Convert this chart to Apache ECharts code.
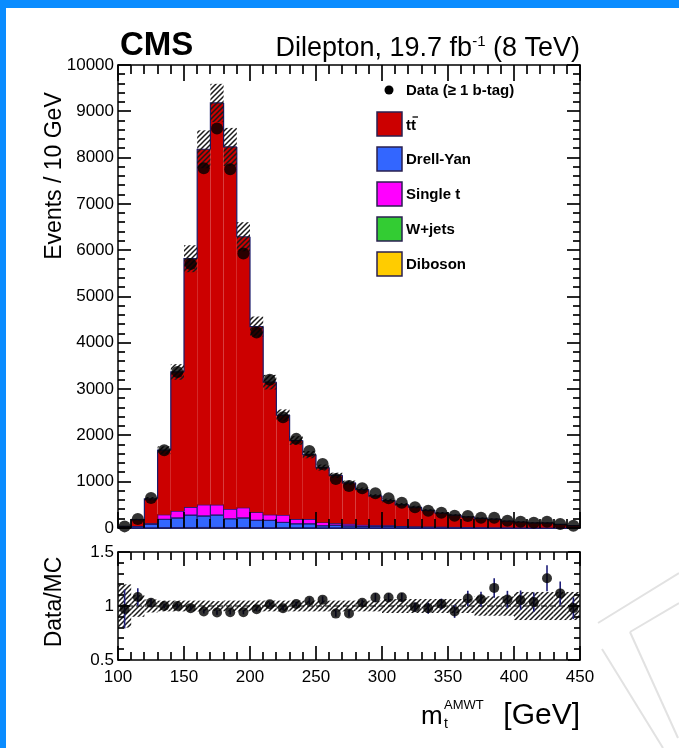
<!DOCTYPE html>
<html>
<head>
<meta charset="utf-8">
<script src="https://cdn.jsdelivr.net/npm/echarts@6/dist/echarts.min.js"></script>
<style>
  html, body { margin: 0; padding: 0; background: #ffffff; }
  #chart { width: 679px; height: 748px; }
</style>
</head>
<body>
<div id="chart"></div>
<script>
// Reconstructed top-quark mass (AMWT) in the dilepton channel, 10 GeV bins
const binEdges = [100, 110, 120, 130, 140, 150, 160, 170, 180, 190, 200, 210, 220, 230, 240, 250, 260, 270,
                  280, 290, 300, 310, 320, 330, 340, 350, 360, 370, 380, 390, 400, 410, 420, 430, 440, 450];

// Observed events (>= 1 b-tag)
const dataCounts = [35, 195, 650, 1680, 3370, 5700, 7770, 8630, 7750, 5930, 4220, 3200, 2390, 1925, 1663, 1382,
                    1058, 907, 857, 749, 641, 547, 447, 374, 330, 266, 259, 223, 223, 158, 137, 115, 137, 86, 50];

// Simulated contributions
const ttbar = [27, 137, 526, 1392, 3001, 5365, 7678, 8678, 7820, 5850, 4011, 2863, 2158, 1698, 1393, 1186,
               1034, 885, 764, 631, 533, 463, 415, 350, 295, 256, 220, 191, 175, 134, 117, 99, 99, 68, 44];
const drellYan = [5, 25, 80, 180, 210, 270, 250, 270, 190, 210, 160, 160, 115, 86, 86, 45,
                  60, 43, 30, 30, 30, 25, 22, 20, 18, 15, 14, 12, 10, 9, 8, 7, 6, 5, 4];
const singleTop = [3, 15, 20, 100, 150, 170, 240, 220, 210, 220, 170, 120, 160, 100, 100, 70,
                   40, 43, 35, 30, 28, 15, 12, 10, 10, 8, 7, 6, 5, 5, 4, 4, 3, 3, 2];
const wJets = [0, 1, 2, 3, 3, 4, 4, 4, 3, 3, 3, 2, 2, 2, 2, 1,
               1, 1, 1, 1, 1, 1, 1, 1, 0, 0, 0, 0, 0, 0, 0, 0, 0, 0, 0];
const diboson = [1, 2, 3, 5, 6, 7, 8, 8, 7, 7, 6, 5, 5, 4, 4, 3,
                 3, 3, 2, 2, 2, 2, 2, 1, 1, 1, 1, 1, 1, 1, 1, 1, 1, 1, 1];

// Relative systematic uncertainty on the total prediction
const mcRelUnc = [0.20, 0.10, 0.06, 0.05, 0.05, 0.05, 0.05, 0.045, 0.05, 0.05, 0.05, 0.05, 0.05, 0.05, 0.05, 0.05,
                  0.05, 0.05, 0.05, 0.05, 0.065, 0.065, 0.065, 0.065, 0.065, 0.065, 0.065, 0.09, 0.09, 0.09,
                  0.13, 0.13, 0.13, 0.13, 0.13];

// Statistical error on the data/MC ratio
const ratioErr = [0.18, 0.08, 0.04, 0.02, 0.02, 0.02, 0.02, 0.02, 0.02, 0.02, 0.02, 0.02, 0.02, 0.02, 0.03, 0.03,
                  0.03, 0.03, 0.03, 0.04, 0.04, 0.04, 0.04, 0.05, 0.05, 0.06, 0.07, 0.07, 0.09, 0.08, 0.09,
                  0.09, 0.12, 0.11, 0.10];

// Axis tick positions
const xMajorTicks = [100, 150, 200, 250, 300, 350, 400, 450];
const yMajorTicks = [0, 1000, 2000, 3000, 4000, 5000, 6000, 7000, 8000, 9000, 10000];
const yMinorStep = 200;
const rMajorTicks = [0.5, 1, 1.5];
const rMinorTicks = [0.6, 0.7, 0.8, 0.9, 1.1, 1.2, 1.3, 1.4];

const FONT = '"Liberation Sans", Arial, Helvetica, sans-serif';
const COL = { tt: '#cc0000', dy: '#3366ff', st: '#ff00ff', wj: '#33cc33', vv: '#ffcc00' };
const OUTLINE = '#1c1c6b';
const MAIN = { left: 118, top: 65, width: 462, height: 463 };
const RAT = { left: 118, top: 552, width: 462, height: 108 };

// cumulative stack (bottom to top): diboson, W+jets, Drell-Yan, single t, ttbar
const cum = (arrs) => dataCounts.map((_, i) => arrs.reduce((s, a) => s + a[i], 0));
const lvlVV = cum([diboson]);
const lvlWJ = cum([diboson, wJets]);
const lvlDY = cum([diboson, wJets, drellYan]);
const lvlST = cum([diboson, wJets, drellYan, singleTop]);
const mcTotal = cum([diboson, wJets, drellYan, singleTop, ttbar]);
const centers = binEdges.slice(0, -1).map((lo, i) => (lo + binEdges[i + 1]) / 2);

// diagonal hatch pattern
function makeHatch(color) {
  const s = 5;
  const c = document.createElement('canvas');
  c.width = s; c.height = s;
  const g = c.getContext('2d');
  g.strokeStyle = color;
  g.lineWidth = 1.5;
  g.beginPath();
  g.moveTo(-1, s + 1); g.lineTo(s + 1, -1);
  g.moveTo(-s / 2 - 1, s / 2 + 1); g.lineTo(s / 2 + 1, -s / 2 - 1);
  g.moveTo(s / 2 - 1, s * 1.5 + 1); g.lineTo(s * 1.5 + 1, s / 2 - 1);
  g.stroke();
  return { image: c, repeat: 'repeat' };
}
const hatch = makeHatch('#1a1a1a');

function layerSeries(name, color, lower, upper, boxStroke) {
  const rows = binEdges.slice(0, -1).map((lo, i) =>
    [lo, binEdges[i + 1], lower[i], upper[i], i > 0 ? upper[i - 1] : 0]);
  return {
    type: 'custom', name, xAxisIndex: 0, yAxisIndex: 0, z: 2,
    data: rows, encode: { x: [0, 1], y: [2, 3] },
    renderItem(params, api) {
      const lo = api.value(0), hi = api.value(1), b = api.value(2), t = api.value(3), p = api.value(4);
      const tl = api.coord([lo, t]), br = api.coord([hi, b]);
      const tr = api.coord([hi, t]), pl = api.coord([lo, p]);
      const children = [];
      if (t > b) {
        children.push({
          type: 'rect',
          shape: { x: tl[0], y: tl[1], width: br[0] - tl[0], height: br[1] - tl[1] },
          style: boxStroke ? { fill: color, stroke: OUTLINE, lineWidth: 1 } : { fill: color }
        });
      }
      children.push({
        type: 'polyline',
        shape: { points: [pl, tl, tr] },
        style: { stroke: OUTLINE, lineWidth: 1.2, fill: null }
      });
      return { type: 'group', children };
    }
  };
}

function bandSeries(xi, yi, lowArr, highArr) {
  const rows = binEdges.slice(0, -1).map((lo, i) => [lo, binEdges[i + 1], lowArr[i], highArr[i]]);
  return {
    type: 'custom', xAxisIndex: xi, yAxisIndex: yi, z: 3,
    data: rows, encode: { x: [0, 1], y: [2, 3] },
    renderItem(params, api) {
      const tl = api.coord([api.value(0), api.value(3)]);
      const br = api.coord([api.value(1), api.value(2)]);
      return {
        type: 'rect',
        shape: { x: tl[0], y: tl[1], width: br[0] - tl[0], height: br[1] - tl[1] },
        style: { fill: hatch }
      };
    }
  };
}

// inward frame ticks on all four sides of a panel, drawn as thin filled bars
// row: [xValue, yValue, isXTick (1/0), length]
function tickSeries(xi, yi, xr, yr, xTicks, yTicks) {
  const rows = [];
  xTicks.forEach(t => rows.push([t[0], yr[0], 1, t[1]]));
  yTicks.forEach(t => rows.push([xr[0], t[0], 0, t[1]]));
  return {
    type: 'custom', xAxisIndex: xi, yAxisIndex: yi, z: 9, silent: true,
    data: rows, encode: { x: 0, y: 1 },
    renderItem(params, api) {
      const v0 = api.value(0), v1 = api.value(1), len = api.value(3);
      if (api.value(2) == 1) {
        const bot = api.coord([v0, yr[0]]), top = api.coord([v0, yr[1]]);
        const x = Math.round(bot[0]) - 0.6;
        return { type: 'group', children: [
          { type: 'rect', shape: { x: x, y: bot[1] - len, width: 1.2, height: len }, style: { fill: '#000' } },
          { type: 'rect', shape: { x: x, y: top[1], width: 1.2, height: len }, style: { fill: '#000' } }
        ] };
      }
      const l = api.coord([xr[0], v1]), r = api.coord([xr[1], v1]);
      const y = Math.round(l[1]) - 0.6;
      return { type: 'group', children: [
        { type: 'rect', shape: { x: l[0], y: y, width: len, height: 1.2 }, style: { fill: '#000' } },
        { type: 'rect', shape: { x: r[0] - len, y: y, width: len, height: 1.2 }, style: { fill: '#000' } }
      ] };
    }
  };
}

const mainXTicks = binEdges.map(v => [v, xMajorTicks.includes(v) ? 16 : 9]);
const mainYTicks = [];
for (let v = 0; v <= 10000; v += yMinorStep) mainYTicks.push([v, yMajorTicks.includes(v) ? 13 : 7]);
const ratioXTicks = binEdges.map(v => [v, xMajorTicks.includes(v) ? 14 : 8]);
const ratioYTicks = rMajorTicks.map(v => [v, 12]).concat(rMinorTicks.map(v => [v, 6]));

const ratio = dataCounts.map((d, i) => d / mcTotal[i]);
const labelStyle = { color: '#000', fontFamily: FONT, fontSize: 17 };

function xAxisCfg(grid, pos, showLabel) {
  return {
    type: 'value', gridIndex: grid, position: pos, min: 100, max: 450, interval: 50,
    axisLine: { show: true, onZero: false, lineStyle: { color: '#000', width: 1.5 } },
    axisTick: { show: false }, minorTick: { show: false },
    splitLine: { show: false },
    axisLabel: Object.assign({ show: showLabel, margin: 9 }, labelStyle)
  };
}
function yAxisCfg(grid, pos, showLabel, min, max, interval) {
  return {
    type: 'value', gridIndex: grid, position: pos, min, max, interval,
    axisLine: { show: true, onZero: false, lineStyle: { color: '#000', width: 1.5 } },
    axisTick: { show: false }, minorTick: { show: false },
    splitLine: { show: false },
    axisLabel: Object.assign({ show: showLabel, margin: 4, formatter: v => String(v) }, labelStyle)
  };
}

const legendRows = [
  { label: 'Drell-Yan', color: COL.dy, y: 159 },
  { label: 'Single t', color: COL.st, y: 194 },
  { label: 'W+jets', color: COL.wj, y: 229 },
  { label: 'Diboson', color: COL.vv, y: 264 }
];
const legendGraphics = [
  { type: 'circle', shape: { cx: 389, cy: 90, r: 4.5 }, style: { fill: '#000' } },
  { type: 'text', x: 406, y: 91, style: { text: 'Data (\u2265 1 b-tag)', font: 'bold 15px ' + FONT, fill: '#000', verticalAlign: 'middle' } },
  { type: 'rect', shape: { x: 377, y: 112, width: 25, height: 24 }, style: { fill: COL.tt, stroke: '#2a2050', lineWidth: 1.5 } },
  { type: 'text', x: 406, y: 126, style: { text: 'tt', font: 'bold 15px ' + FONT, fill: '#000', verticalAlign: 'middle' } },
  { type: 'line', shape: { x1: 412.5, y1: 117, x2: 418, y2: 117 }, style: { stroke: '#000', lineWidth: 1.3 } }
];
legendRows.forEach(r => {
  legendGraphics.push({ type: 'rect', shape: { x: 377, y: r.y - 12, width: 25, height: 24 }, style: { fill: r.color, stroke: '#2a2050', lineWidth: 1.5 } });
  legendGraphics.push({ type: 'text', x: 406, y: r.y + 1, style: { text: r.label, font: 'bold 15px ' + FONT, fill: '#000', verticalAlign: 'middle' } });
});

const baseGraphics = [
  // page frame
  { type: 'rect', shape: { x: 0, y: 0, width: 679, height: 8 }, style: { fill: '#0a8cff' }, z: 100 },
  { type: 'rect', shape: { x: 0, y: 0, width: 6, height: 748 }, style: { fill: '#0a8cff' }, z: 100 },
  // faint logo lines
  { type: 'line', shape: { x1: 598, y1: 623, x2: 679, y2: 573 }, style: { stroke: '#e2e2e2', lineWidth: 2 } },
  { type: 'line', shape: { x1: 630, y1: 632, x2: 679, y2: 603 }, style: { stroke: '#e2e2e2', lineWidth: 2 } },
  { type: 'line', shape: { x1: 630, y1: 632, x2: 678, y2: 738 }, style: { stroke: '#e2e2e2', lineWidth: 2 } },
  { type: 'line', shape: { x1: 602, y1: 649, x2: 663, y2: 748 }, style: { stroke: '#e2e2e2', lineWidth: 2 } },
  // header
  { type: 'text', x: 120, y: 46, style: { text: 'CMS', font: 'bold 33px ' + FONT, fill: '#000', verticalAlign: 'middle' } },
  {
    type: 'text', x: 580, y: 46,
    style: {
      text: '{a|Dilepton, 19.7 fb}{s|-1}{a| (8 TeV)}', align: 'right', verticalAlign: 'middle',
      rich: {
        a: { fontFamily: FONT, fontSize: 27, fill: '#000', verticalAlign: 'bottom', lineHeight: 32 },
        s: { fontFamily: FONT, fontSize: 15, fill: '#000', verticalAlign: 'bottom', lineHeight: 32, padding: [0, 0, 13, 0] }
      }
    }
  },
  // axis titles
  { type: 'text', x: 55, y: 176, rotation: Math.PI / 2, style: { text: 'Events / 10 GeV', font: '23px ' + FONT, fill: '#000', align: 'center', verticalAlign: 'middle' } },
  { type: 'text', x: 55, y: 602, rotation: Math.PI / 2, style: { text: 'Data/MC', font: '23px ' + FONT, fill: '#000', align: 'center', verticalAlign: 'middle' } },
  { type: 'text', x: 421, y: 717, style: { text: 'm', font: '26px ' + FONT, fill: '#000', verticalAlign: 'middle' } },
  { type: 'text', x: 444, y: 705, style: { text: 'AMWT', font: '13px ' + FONT, fill: '#000', verticalAlign: 'middle' } },
  { type: 'text', x: 444, y: 724, style: { text: 't', font: '14px ' + FONT, fill: '#000', verticalAlign: 'middle' } },
  { type: 'text', x: 580, y: 716, style: { text: '[GeV]', font: '30px ' + FONT, fill: '#000', align: 'right', verticalAlign: 'middle' } }
].concat(legendGraphics);

const chart = echarts.init(document.getElementById('chart'), null, { renderer: 'canvas' });
chart.setOption({
  animation: false,
  grid: [
    { left: MAIN.left, top: MAIN.top, width: MAIN.width, height: MAIN.height },
    { left: RAT.left, top: RAT.top, width: RAT.width, height: RAT.height }
  ],
  xAxis: [xAxisCfg(0, 'bottom', false), xAxisCfg(0, 'top', false), xAxisCfg(1, 'bottom', true), xAxisCfg(1, 'top', false)],
  yAxis: [
    yAxisCfg(0, 'left', true, 0, 10000, 1000),
    yAxisCfg(0, 'right', false, 0, 10000, 1000),
    yAxisCfg(1, 'left', true, 0.5, 1.5, 0.5),
    yAxisCfg(1, 'right', false, 0.5, 1.5, 0.5)
  ],
  series: [
    layerSeries('Diboson', COL.vv, dataCounts.map(() => 0), lvlVV, true),
    layerSeries('W+jets', COL.wj, lvlVV, lvlWJ, true),
    layerSeries('Drell-Yan', COL.dy, lvlWJ, lvlDY, true),
    layerSeries('Single t', COL.st, lvlDY, lvlST, true),
    layerSeries('ttbar', COL.tt, lvlST, mcTotal, false),
    bandSeries(0, 0, mcTotal.map((m, i) => m * (1 - mcRelUnc[i])), mcTotal.map((m, i) => m * (1 + mcRelUnc[i]))),
    {
      type: 'scatter', name: 'Data', xAxisIndex: 0, yAxisIndex: 0, z: 5,
      symbol: 'circle', symbolSize: 12, itemStyle: { color: '#000' },
      data: centers.map((c, i) => [c, dataCounts[i]])
    },
    tickSeries(0, 0, [100, 450], [0, 10000], mainXTicks, mainYTicks),
    // ratio panel
    bandSeries(2, 2, mcRelUnc.map(u => 1 - u), mcRelUnc.map(u => 1 + u)),
    {
      type: 'line', xAxisIndex: 2, yAxisIndex: 2, z: 4, symbol: 'none',
      lineStyle: { color: '#000', width: 1.2, type: [6, 3] },
      data: [[100, 1], [450, 1]]
    },
    {
      type: 'custom', xAxisIndex: 2, yAxisIndex: 2, z: 5,
      data: centers.map((c, i) => [c, ratio[i] - ratioErr[i], ratio[i] + ratioErr[i]]),
      encode: { x: 0, y: [1, 2] },
      renderItem(params, api) {
        const a = api.coord([api.value(0), api.value(1)]);
        const b = api.coord([api.value(0), api.value(2)]);
        return { type: 'line', shape: { x1: a[0], y1: a[1], x2: b[0], y2: b[1] }, style: { stroke: '#1e1e78', lineWidth: 1.6 } };
      }
    },
    {
      type: 'scatter', xAxisIndex: 2, yAxisIndex: 2, z: 6,
      symbol: 'circle', symbolSize: 10, itemStyle: { color: '#000' },
      data: centers.map((c, i) => [c, ratio[i]])
    },
    tickSeries(2, 2, [100, 450], [0.5, 1.5], ratioXTicks, ratioYTicks)
  ],
  graphic: baseGraphics
});

// frame ticks as graphic bars, placed through the axes' pixel conversion
const tickBars = [];
function addTicks(rect, xi, yi, xTicks, yTicks) {
  xTicks.forEach(([v, len]) => {
    const x = Math.round(chart.convertToPixel({ xAxisIndex: xi }, v)) - 0.6;
    tickBars.push({ type: 'rect', z: 50, silent: true, shape: { x: x, y: rect.top + rect.height - len, width: 1.2, height: len }, style: { fill: '#000' } });
    tickBars.push({ type: 'rect', z: 50, silent: true, shape: { x: x, y: rect.top, width: 1.2, height: len }, style: { fill: '#000' } });
  });
  yTicks.forEach(([v, len]) => {
    const y = Math.round(chart.convertToPixel({ yAxisIndex: yi }, v)) - 0.6;
    tickBars.push({ type: 'rect', z: 50, silent: true, shape: { x: rect.left, y: y, width: len, height: 1.2 }, style: { fill: '#000' } });
    tickBars.push({ type: 'rect', z: 50, silent: true, shape: { x: rect.left + rect.width - len, y: y, width: len, height: 1.2 }, style: { fill: '#000' } });
  });
}
addTicks(MAIN, 0, 0, mainXTicks, mainYTicks);
addTicks(RAT, 2, 2, ratioXTicks, ratioYTicks);
chart.setOption({ graphic: baseGraphics.concat(tickBars) });
</script>
</body>
</html>
